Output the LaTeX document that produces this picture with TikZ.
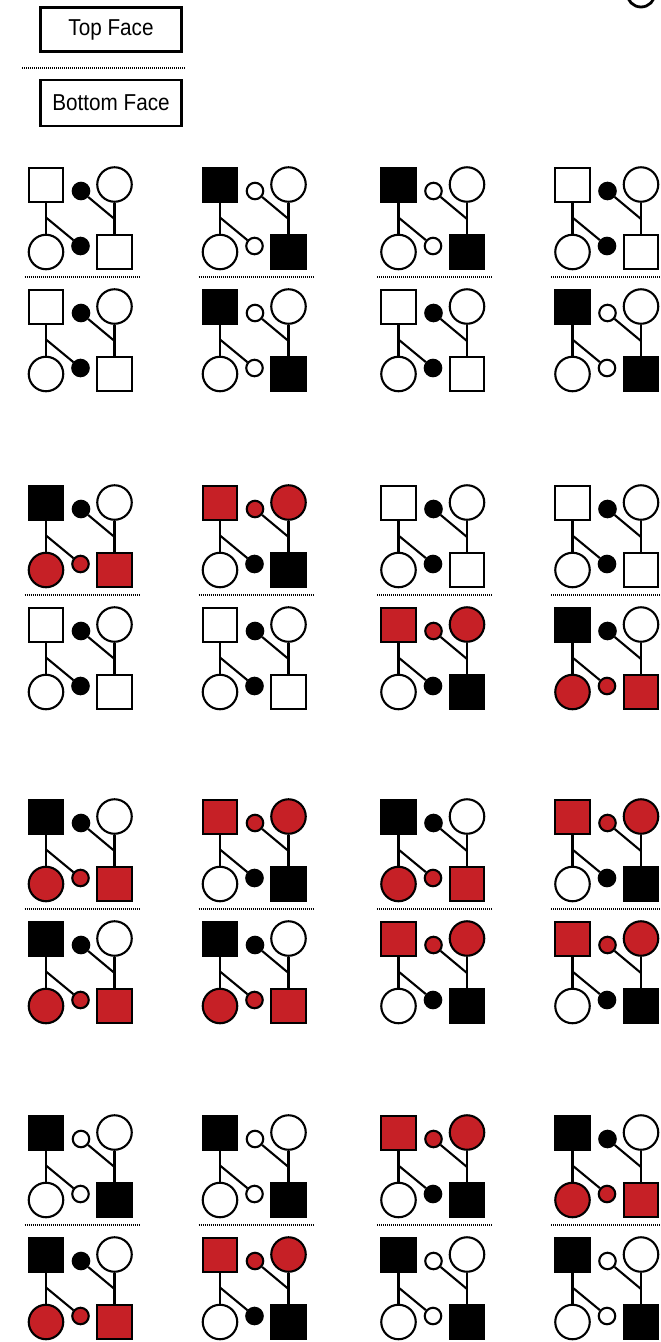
\documentclass[tikz,border=0pt]{standalone}
\usepackage{fontspec}
\setmainfont{Liberation Sans}
\definecolor{kred}{RGB}{198,32,38}
\tikzset{
  sqnode/.style={draw, line width=2.1pt, rectangle, minimum width=34.5pt, minimum height=34pt, inner sep=0pt},
  bignode/.style={draw, line width=2.1pt, circle, minimum size=34.5pt, inner sep=0pt},
  smallnode/.style={draw, line width=2.1pt, circle, minimum size=16.5pt, inner sep=0pt},
  kinline/.style={line width=2.1pt},
  facesep/.style={line width=1.4pt, dash pattern=on 1pt off 1pt},
  keybox/.style={draw, line width=2.2pt, minimum width=141pt, minimum height=44pt, inner sep=0pt, font=\fontsize{23}{27}\selectfont}
}
% one face: name, x, y, then fills of square, small circle, circle (top row) and circle, small circle, square (bottom row)
\newcommand{\pedface}[9]{%
  \begin{scope}[shift={(#2,#3)}]
    \node[sqnode, fill=#4] (#1sa) at (18.5,18) {};
    \node[smallnode, fill=#5] (#1ca) at (53.5,24) {};
    \node[bignode, fill=#6] (#1cb) at (87,17.5) {};
    \node[bignode, fill=#7] (#1cc) at (18.5,85) {};
    \node[smallnode, fill=#8] (#1cd) at (53,79) {};
    \node[sqnode, fill=#9] (#1sb) at (87,85) {};
    \coordinate (#1ja) at (87,52);
    \coordinate (#1jb) at (18.5,50.5);
    \draw[kinline] (#1cb) -- (#1sb);
    \draw[kinline] (#1sa) -- (#1cc);
    \draw[kinline] (#1ca) -- (#1ja);
    \draw[kinline] (#1jb) -- (#1cd);
  \end{scope}}
\begin{document}
\begin{tikzpicture}[x=1pt,y=-1pt]
\clip (0,0) rectangle (661,1342);
\fill[white] (0,0) rectangle (661,1342);
% key
\node[keybox] (topkey) at (111,29.5) {\scalebox{0.9}[1]{Top Face}};
\node[keybox, minimum height=46pt] (botkey) at (111,103) {\scalebox{0.9}[1]{Bottom Face}};
\draw[facesep] (22,68) -- (186,68);
\draw[line width=2.8pt] (641,-7) circle (14);
% separators between top and bottom faces
\foreach \cx in {27.5,201.5,380,554}
  \foreach \ry in {167,485,799,1115}
    \draw[facesep] ({\cx-3},{\ry+110}) -- ({\cx+112},{\ry+110});
% row 1
\pedface{fat}{27.5}{167}{white}{black}{white}{white}{black}{white}
\pedface{fab}{27.5}{289}{white}{black}{white}{white}{black}{white}
\pedface{fbt}{201.5}{167}{black}{white}{white}{white}{white}{black}
\pedface{fbb}{201.5}{289}{black}{white}{white}{white}{white}{black}
\pedface{fct}{380}{167}{black}{white}{white}{white}{white}{black}
\pedface{fcb}{380}{289}{white}{black}{white}{white}{black}{white}
\pedface{fdt}{554}{167}{white}{black}{white}{white}{black}{white}
\pedface{fdb}{554}{289}{black}{white}{white}{white}{white}{black}
% row 2
\pedface{fet}{27.5}{485}{black}{black}{white}{kred}{kred}{kred}
\pedface{feb}{27.5}{607}{white}{black}{white}{white}{black}{white}
\pedface{fft}{201.5}{485}{kred}{kred}{kred}{white}{black}{black}
\pedface{ffb}{201.5}{607}{white}{black}{white}{white}{black}{white}
\pedface{fgt}{380}{485}{white}{black}{white}{white}{black}{white}
\pedface{fgb}{380}{607}{kred}{kred}{kred}{white}{black}{black}
\pedface{fht}{554}{485}{white}{black}{white}{white}{black}{white}
\pedface{fhb}{554}{607}{black}{black}{white}{kred}{kred}{kred}
% row 3
\pedface{fit}{27.5}{799}{black}{black}{white}{kred}{kred}{kred}
\pedface{fib}{27.5}{921}{black}{black}{white}{kred}{kred}{kred}
\pedface{fjt}{201.5}{799}{kred}{kred}{kred}{white}{black}{black}
\pedface{fjb}{201.5}{921}{black}{black}{white}{kred}{kred}{kred}
\pedface{fkt}{380}{799}{black}{black}{white}{kred}{kred}{kred}
\pedface{fkb}{380}{921}{kred}{kred}{kred}{white}{black}{black}
\pedface{flt}{554}{799}{kred}{kred}{kred}{white}{black}{black}
\pedface{flb}{554}{921}{kred}{kred}{kred}{white}{black}{black}
% row 4
\pedface{fmt}{27.5}{1115}{black}{white}{white}{white}{white}{black}
\pedface{fmb}{27.5}{1237}{black}{black}{white}{kred}{kred}{kred}
\pedface{fnt}{201.5}{1115}{black}{white}{white}{white}{white}{black}
\pedface{fnb}{201.5}{1237}{kred}{kred}{kred}{white}{black}{black}
\pedface{fot}{380}{1115}{kred}{kred}{kred}{white}{black}{black}
\pedface{fob}{380}{1237}{black}{white}{white}{white}{white}{black}
\pedface{fpt}{554}{1115}{black}{black}{white}{kred}{kred}{kred}
\pedface{fpb}{554}{1237}{black}{white}{white}{white}{white}{black}
\end{tikzpicture}
\end{document}
